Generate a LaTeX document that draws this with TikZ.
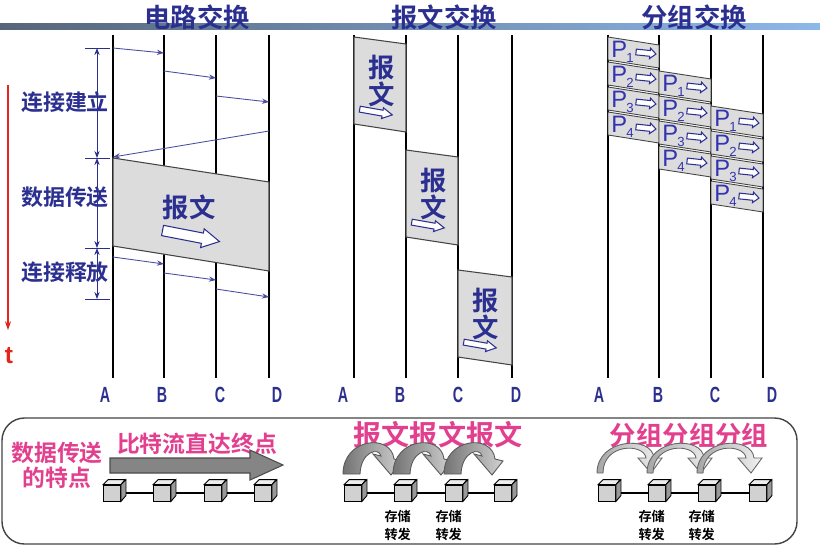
\documentclass[tikz,border=0pt]{standalone}
\usepackage{fontspec}
\setmainfont{Liberation Sans}
\newfontfamily\cjk{Noto Sans CJK SC}
\newfontfamily\cjkbf{Noto Sans CJK SC Bold}
\usepackage{tikz}
\usetikzlibrary{
  arrows.meta,
  positioning,
  calc
}
\definecolor{navy}{HTML}{2B2F8F}
\definecolor{pblue}{HTML}{3434B0}
\definecolor{pinkhi}{HTML}{E2408E}
\definecolor{boxgrey}{HTML}{DCDCDC}
\definecolor{tred}{HTML}{E3261C}
\definecolor{barleft}{HTML}{56657A}
\definecolor{barright}{HTML}{8DB8EA}
\definecolor{darkgrey}{HTML}{444444}

\tikzset{
  title/.style={font=\cjkbf\fontsize{15}{15}\selectfont, text=navy},
  phase/.style={font=\cjkbf\fontsize{12.5}{12.5}\selectfont, text=navy},
  station/.style={font=\bfseries\fontsize{12.5}{12.5}\selectfont, text=navy},
  stationline/.style={black, line width=0.6pt},
  msgtext/.style={font=\cjkbf\fontsize{15}{15}\selectfont, text=navy, inner sep=0},
  pletter/.style={font=\fontsize{13.5}{13.5}\selectfont, text=pblue, inner sep=0},
  pinklabel/.style={font=\cjkbf\fontsize{13}{13}\selectfont, text=pinkhi},
  relay/.style={font=\cjkbf\fontsize{7.5}{10}\selectfont, align=center, inner sep=0},
  signal/.style={navy!85, line width=0.5pt, -{Stealth[length=4pt, width=3pt]}},
  dimline/.style={navy, line width=0.5pt, {Stealth[length=4pt, width=3pt]}-{Stealth[length=4pt, width=3pt]}},
  boxpath/.style={fill=boxgrey, draw=darkgrey, line width=0.6pt},
  cubenode/.style={draw=black, fill=black!18, minimum width=0.34cm, minimum height=0.32cm, inner sep=0, line width=0.5pt},
  hollow/.pic={
    \filldraw[fill=white, draw=navy, line width=0.6pt]
      (-10,-1.8) -- (4,-1.8) -- (4,-3.3) -- (10,0) -- (4,3.3) -- (4,1.8) -- (-10,1.8) -- cycle;
  },
  hopthick/.pic={
    \shadedraw[left color=black!55, right color=black!18, draw=black!65, line width=0.5pt]
      (-10,-19) .. controls (-10,-55) and (38,-60) .. (41,-34) -- (49,-32) -- (38,-18)
      -- (20,-39) -- (28,-37) .. controls (26,-46) and (8,-42) .. (7,-19) -- cycle;
  },
  hopthin/.pic={
    \shadedraw[left color=black!35, right color=black!5, draw=black!60, line width=0.5pt]
      (-10,-20) .. controls (-10,-55) and (45,-58) .. (47,-35) -- (55,-35) -- (44,-20)
      -- (31,-35) -- (39,-35) .. controls (37,-50) and (-4,-50) .. (-4,-20) -- cycle;
  }
}

\begin{document}
\begin{tikzpicture}[x=0.02cm, y=-0.02cm]
  \useasboundingbox (0,0) rectangle (820,548);
  \fill[white] (0,0) rectangle (820,548);

  % title bar and headings
  \shade[left color=barleft, right color=barright] (0,23) rectangle (820,29);
  \foreach \x/\name/\txt in {197/tc/电路交换, 444/tm/报文交换, 694/tp/分组交换}
    \node[title] (\name) at (\x,17) {\txt};

  % time lines of the stations
  \foreach \x/\n in {113/cA, 164/cB, 216/cC, 269/cD, 354/mA, 406/mB, 458/mC, 512/mD,
                     608/pA, 659/pB, 711/pC, 763/pD} {
    \coordinate (\n t) at (\x,35);
    \coordinate (\n b) at (\x,378);
    \draw[stationline] (\n t) -- (\n b);
  }
  \foreach \lx/\n [count=\i] in {105/A, 162/B, 220/C, 277/D, 343/A, 400/B, 458/C, 516/D,
                                 599/A, 658/B, 715/C, 772/D}
    \node[station] (lab\i) at (\lx,395) {\scalebox{0.65}[1]{\n}};

  % circuit switching
  \foreach \xa/\ya/\xb/\yb [count=\i] in {113/48/164/53, 164/71/216/78, 216/96/269/102, 269/131/113/157} {
    \coordinate (su\i) at (\xa,\ya);
    \coordinate (sv\i) at (\xb,\yb);
    \draw[signal] (su\i) -- (sv\i);
  }
  \filldraw[boxpath] (113,158) -- (269,182) -- (269,271) -- (113,246) -- cycle;
  \node[msgtext] (cmsg) at (189,207) {报文};
  \pic[scale=2.9, rotate=-11] at (191,236) {hollow};
  \foreach \xa/\ya/\xb/\yb [count=\i] in {113/257/164/264, 164/273/216/280, 216/289/269/297} {
    \coordinate (ru\i) at (\xa,\ya);
    \coordinate (rv\i) at (\xb,\yb);
    \draw[signal] (ru\i) -- (rv\i);
  }

  % phases
  \foreach \y [count=\i] in {48,158,248,299} {
    \coordinate (dl\i) at (85,\y);
    \coordinate (dr\i) at (110,\y);
    \coordinate (dm\i) at (97,\y);
    \draw[navy, line width=0.5pt] (dl\i) -- (dr\i);
  }
  \draw[dimline] (dm1) -- (dm2);
  \draw[dimline] (dm2) -- (dm3);
  \draw[dimline] (dm3) -- (dm4);
  \node[phase] (ph1) at (65,102) {连接建立};
  \node[phase] (ph2) at (65,197) {数据传送};
  \node[phase] (ph3) at (65,272) {连接释放};

  % time axis
  \coordinate (t0) at (8,85);
  \coordinate (t1) at (8,330);
  \draw[tred, line width=0.6pt, -{Stealth[length=5pt, width=3.5pt]}] (t0) -- (t1);
  \node[text=tred, font=\bfseries\fontsize{14}{14}\selectfont] (tlab) at (9,356) {t};

  % message switching
  \foreach \xl/\xr/\yt [count=\k] in {354/406/37, 406/458/150, 458/512/270} {
    \filldraw[boxpath] (\xl,\yt) -- (\xr,\yt+7) -- (\xr,\yt+95) -- (\xl,\yt+87) -- cycle;
    \node[msgtext] (mb\k) at (\xl+28,\yt+31) {报};
    \node[msgtext] (mw\k) at (\xl+28,\yt+57) {文};
    \pic[scale=1.65, rotate=-10] at (\xl+22,\yt+75) {hollow};
  }

  % packet switching
  \foreach \xl/\xr/\ys [count=\k] in {608/659/37, 659/711/71, 711/763/106} {
    \foreach \i in {1,...,4} {
      \pgfmathsetmacro\yt{\ys+(\i-1)*25}
      \filldraw[boxpath, line width=0.5pt] (\xl,\yt) -- (\xr,\yt+8) -- (\xr,\yt+31) -- (\xl,\yt+23) -- cycle;
      \node[pletter, anchor=base west] (pk\k\i) at (\xl+3,\yt+20)
        {P\kern-0.5pt\raisebox{-3pt}{\fontsize{7.5}{7.5}\selectfont\i}};
      \pic[rotate=-6, yscale=1.6] at (\xl+38,\yt+16) {hollow};
    }
  }

  % comparison panel
  \draw[darkgrey, line width=0.8pt, rounded corners=0.45cm] (2,418) rectangle (797,544);
  \node[pinklabel] (feat1) at (57,453) {数据传送};
  \node[pinklabel] (feat2) at (57,478) {的特点};
  \node[pinklabel] (flowlab) at (197,444) {比特流直达终点};
  \node[pinklabel, font=\cjkbf\fontsize{16}{16}\selectfont] (msglab) at (438,435) {报文报文报文};
  \node[pinklabel, font=\cjkbf\fontsize{15}{15}\selectfont] (pktlab) at (689,435) {分组分组分组};
  \filldraw[fill=black!48, draw=black!70, line width=0.6pt]
    (110,458) -- (250,458) -- (250,450) -- (283,465) -- (250,480) -- (250,473) -- (110,473) -- cycle;

  \foreach \x/\n in {112/fa1, 162/fa2, 213/fa3, 263/fa4, 353/fb1, 403/fb2, 454/fb3, 503/fb4,
                     607/fc1, 657/fc2, 707/fc3, 758/fc4}
    \node[cubenode] (\n) at (\x,493) {};
  \foreach \r in {a,b,c}
    \draw[line width=0.6pt] (f\r1) -- (f\r2) (f\r2) -- (f\r3) (f\r3) -- (f\r4);
  \foreach \n in {fa1, fa2, fa3, fa4, fb1, fb2, fb3, fb4, fc1, fc2, fc3, fc4} {
    \filldraw[fill=black!7, line width=0.5pt] (\n.north west) -- ++(5,-5) -- ++(17,0) -- (\n.north east) -- cycle;
    \filldraw[fill=black!40, line width=0.5pt] (\n.north east) -- ++(5,-5) -- ++(0,16) -- (\n.south east) -- cycle;
  }
  \foreach \n in {fb1, fb2, fb3}
    \pic at (\n) {hopthick};
  \foreach \n in {fc1, fc2, fc3}
    \pic at (\n) {hopthin};
  \foreach \n in {fb2, fb3, fc2, fc3}
    \node[relay, below=5pt of \n, xshift=-3pt] (s\n) {存储\\转发};
\end{tikzpicture}
\end{document}
